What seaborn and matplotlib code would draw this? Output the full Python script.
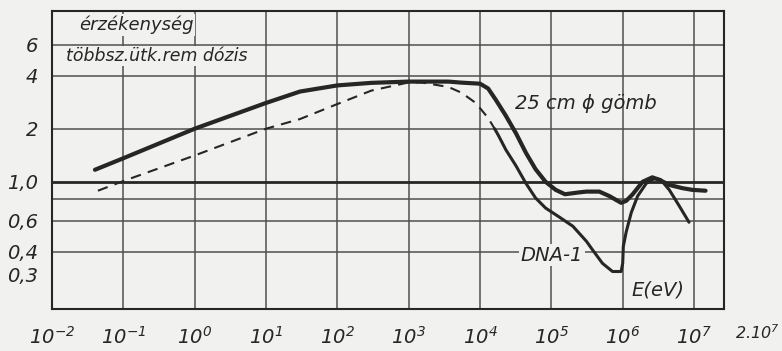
import numpy as np
import pandas as pd
import matplotlib
matplotlib.use("Agg")
import matplotlib.pyplot as plt
import seaborn as sns

# ---- data (E in eV, sensitivity ratio) ----
gomb_E = [0.04, 0.1, 1, 10, 30, 100, 300, 1000, 3.6e3, 5.5e3, 1e4, 1.3e4, 1.66e4,
          2.3e4, 3.2e4, 4.4e4, 6e4, 8.3e4, 1.15e5, 1.55e5, 2.4e5, 3.1e5, 4.7e5,
          6.5e5, 9.5e5, 1.12e6, 1.38e6, 1.9e6, 2.6e6, 3.2e6, 4.5e6, 6.9e6,
          9.5e6, 1.45e7]
gomb_val = [1.17, 1.36, 2.0, 2.8, 3.25, 3.52, 3.64, 3.7, 3.7, 3.65, 3.6, 3.38, 2.92,
            2.37, 1.88, 1.46, 1.18, 1.0, 0.90, 0.85, 0.87, 0.88, 0.88,
            0.83, 0.76, 0.78, 0.85, 1.0, 1.06, 1.03, 0.96, 0.92,
            0.90, 0.89]

dna_dashed_E = [0.044, 0.1, 1, 10, 30, 100, 300, 1000, 1.5e3, 3.6e3, 5.5e3,
                8.7e3, 1.3e4, 1.6e4]
dna_dashed_val = [0.89, 1.01, 1.41, 2.0, 2.27, 2.76, 3.29, 3.66, 3.66, 3.45, 3.2,
                  2.8, 2.3, 2.0]

dna_E = [1.6e4, 1.8e4, 2.3e4, 3.2e4, 4.4e4, 6e4, 8.3e4, 1.3e5, 2e5, 3.1e5, 3.8e5,
         5.2e5, 7.2e5, 9.5e5, 1.0e6, 1.02e6, 1.12e6, 1.32e6, 1.62e6, 2.14e6,
         2.75e6, 3.4e6, 4.5e6, 6.2e6, 8.5e6]
dna_val = [2.0, 1.84, 1.52, 1.23, 0.98, 0.81, 0.71, 0.63, 0.56, 0.46, 0.41,
           0.345, 0.31, 0.31, 0.345, 0.43, 0.52, 0.67, 0.83, 0.98,
           1.04, 1.03, 0.90, 0.73, 0.59]

x_ticks = [1e-2, 1e-1, 1e0, 1e1, 1e2, 1e3, 1e4, 1e5, 1e6, 1e7]
x_labels = [r"$10^{-2}$", r"$10^{-1}$", r"$10^{0}$", r"$10^{1}$", r"$10^{2}$",
            r"$10^{3}$", r"$10^{4}$", r"$10^{5}$", r"$10^{6}$", r"$10^{7}$"]
y_ticks = [0.3, 0.4, 0.6, 0.8, 1.0, 2, 4, 6]
y_labels = ["0,3", "0,4", "0,6", "", "1,0", "2", "4", "6"]
y_minor = [0.5, 0.7, 3, 5]
y_grid = [0.4, 0.6, 0.8, 2, 4, 6]

# ---- style ----
sns.set_style("white")
plt.rcParams["font.family"] = ["DejaVu Sans"]
plt.rcParams["mathtext.fontset"] = "custom"
plt.rcParams["mathtext.rm"] = "DejaVu Sans:italic"
plt.rcParams["mathtext.it"] = "DejaVu Sans:italic"
plt.rcParams["mathtext.default"] = "rm"

ink = "#262626"
gridc = "#505050"
bg = "#f1f1ef"

fig = plt.figure(figsize=(7.82, 3.51), dpi=100)
fig.patch.set_facecolor(bg)
ax = fig.add_axes([52 / 782, 42 / 351, 672 / 782, 298 / 351])
ax.set_facecolor(bg)
ax.set_xscale("log")
ax.set_yscale("log")

df_g = pd.DataFrame({"E": gomb_E, "v": gomb_val})
df_dd = pd.DataFrame({"E": dna_dashed_E, "v": dna_dashed_val})
df_d = pd.DataFrame({"E": dna_E, "v": dna_val})

sns.lineplot(data=df_g, x="E", y="v", ax=ax, color=ink, lw=3.0,
             estimator=None, sort=False, zorder=5, solid_joinstyle="round")
sns.lineplot(data=df_dd, x="E", y="v", ax=ax, color=ink, lw=1.5,
             estimator=None, sort=False, zorder=5,
             linestyle=(0, (5, 3.5)))
sns.lineplot(data=df_d, x="E", y="v", ax=ax, color=ink, lw=2.2,
             estimator=None, sort=False, zorder=5, solid_joinstyle="round")

ax.set_xlim(1e-2, 10 ** 7.42)
ax.set_ylim(0.19, 9.3)

# grid
for v in x_ticks[1:]:
    ax.axvline(v, color=gridc, lw=1.1, zorder=1)
for v in y_grid:
    ax.axhline(v, color=gridc, lw=1.1, zorder=1)
ax.axhline(1.0, color=ink, lw=2.0, zorder=1)

# ticks
ax.xaxis.set_major_locator(matplotlib.ticker.FixedLocator(x_ticks))
ax.set_xticklabels(x_labels)
xminor = [m * d for d in x_ticks for m in (2, 3, 4, 5)]
ax.xaxis.set_minor_locator(matplotlib.ticker.FixedLocator(xminor))
ax.xaxis.set_minor_formatter(matplotlib.ticker.NullFormatter())
ax.yaxis.set_major_locator(matplotlib.ticker.FixedLocator(y_ticks))
ax.set_yticklabels(y_labels, fontstyle="italic")
ax.yaxis.set_minor_locator(matplotlib.ticker.FixedLocator(y_minor))
ax.yaxis.set_minor_formatter(matplotlib.ticker.NullFormatter())

ax.tick_params(axis="x", which="major", direction="out", length=6, width=1.2,
               color=ink, labelcolor=ink, labelsize=14, pad=6)
ax.tick_params(axis="x", which="minor", direction="in", length=4, width=1.0,
               color=ink)
ax.tick_params(axis="y", which="both", direction="out", length=5, width=1.2,
               color=ink, labelcolor=ink, labelsize=14, pad=5)

for s in ax.spines.values():
    s.set_color(ink)
    s.set_linewidth(1.5)
    s.set_visible(True)

ax.set_xlabel("")
ax.set_ylabel("")

fig.text(757 / 782, (351 - 333) / 351, r"$2.10^{7}$", ha="center",
         va="center", fontsize=11.5, color=ink)

box = dict(facecolor=bg, edgecolor="none", pad=1.0)
ax.text(0.795, 0.691, "25 cm ϕ gömb", transform=ax.transAxes, ha="center",
        va="center", fontsize=14, style="italic", color=ink, zorder=6)
ax.text(0.744, 0.181, "DNA-1", transform=ax.transAxes, ha="center",
        va="center", fontsize=14, style="italic", color=ink, bbox=box, zorder=4)
ax.text(0.902, 0.064, "E(eV)", transform=ax.transAxes, ha="center",
        va="center", fontsize=14, style="italic", color=ink, zorder=6)
ax.text(0.126, 0.953, "érzékenység", transform=ax.transAxes, ha="center",
        va="center", fontsize=13, style="italic", color=ink, bbox=box, zorder=4)
ax.text(0.156, 0.849, "többsz.ütk.rem dózis", transform=ax.transAxes,
        ha="center", va="center", fontsize=12.5, style="italic", color=ink,
        bbox=box, zorder=4)

fig.savefig("out.png", dpi=100, facecolor=bg)
